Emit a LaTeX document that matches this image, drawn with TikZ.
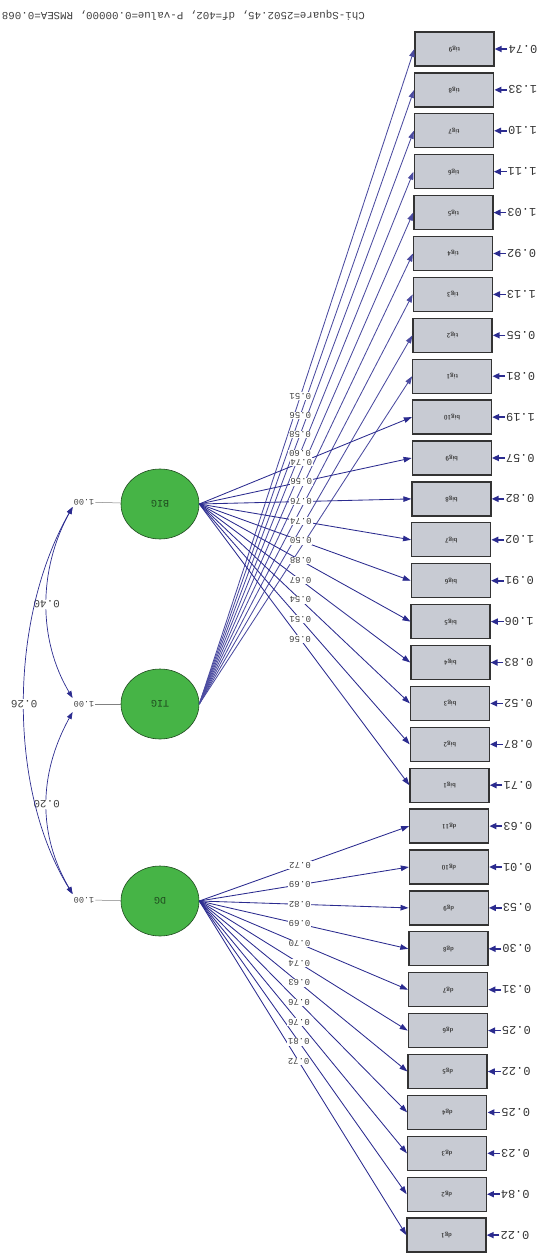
\documentclass[tikz,border=0pt]{standalone}
\usepackage{fontspec}
\setmainfont{Liberation Sans}
\newfontfamily\monof{Liberation Mono}
\usetikzlibrary{arrows.meta,shapes.geometric}
\definecolor{navy}{HTML}{2B2B8F}
\definecolor{boxfill}{HTML}{C8CBD3}
\definecolor{latfill}{HTML}{46B446}
\definecolor{latline}{HTML}{1F4A1F}
\newcommand{\flipt}[1]{\rotatebox[origin=c]{180}{#1}}
\begin{document}
\begin{tikzpicture}[x=1pt,y=-1pt,
  obs/.style={draw=black!80, line width=1.3pt, fill=boxfill, minimum width=79pt, minimum height=34pt, inner sep=0pt, font=\sffamily\bfseries\fontsize{6.5}{6.5}\selectfont, text=black!75},
  errl/.style={font=\monof\fontsize{12}{12}\selectfont, text=black!80, inner sep=1pt},
  errarr/.style={draw=navy, line width=1.6pt, -{Triangle[length=7pt,width=6pt]}},
  lat/.style={ellipse, draw=latline, line width=0.6pt, fill=latfill, minimum width=78pt, minimum height=70pt, inner sep=0pt, font=\monof\fontsize{10}{10}\selectfont, text=latline},
  load/.style={draw=navy, line width=0.85pt, -{Triangle[length=8pt,width=5.5pt]}},
  lbl/.style={fill=white, inner sep=0.8pt, font=\monof\fontsize{9}{9}\selectfont, text=black!75},
  varl/.style={inner sep=1pt, font=\monof\fontsize{8.5}{8.5}\selectfont, text=black!75},
  cov/.style={draw=navy, line width=0.7pt, {Triangle[length=7pt,width=5pt]}-{Triangle[length=7pt,width=5pt]}},
  covl/.style={fill=white, inner sep=1pt, font=\monof\fontsize{11}{11}\selectfont, text=black!75}
]
\useasboundingbox (0,0) rectangle (544,1257);

% title
\node[anchor=east, inner sep=0pt, font=\monof\fontsize{10.8}{10.8}\selectfont, text=black!75] (chi) at (365,15)
  {\flipt{Chi-Square=2502.45, df=402, P-value=0.00000, RMSEA=0.068}};

% observed variables with error variances
\foreach \i/\nm/\ev in {0/tig9/0.74,1/tig8/1.33,2/tig7/1.10,3/tig6/1.11,4/tig5/1.03,5/tig4/0.92,6/tig3/1.13,7/tig2/0.55,8/tig1/0.81,
  9/big10/1.19,10/big9/0.57,11/big8/0.82,12/big7/1.02,13/big6/0.91,14/big5/1.06,15/big4/0.83,16/big3/0.52,17/big2/0.87,18/big1/0.71,
  19/dg11/0.63,20/dg10/0.01,21/dg9/0.53,22/dg8/0.30,23/dg7/0.31,24/dg6/0.25,25/dg5/0.22,26/dg4/0.25,27/dg3/0.23,28/dg2/0.84,29/dg1/0.22}{
  \pgfmathsetmacro\yy{49+40.9*\i}
  \pgfmathsetmacro\xx{415-8*\i/29+39.5}
  \pgfmathsetmacro\ex{\xx+39.5+29}
  \node[obs] (b\i) at (\xx,\yy) {\flipt{\nm}};
  \node[errl] (e\i) at (\ex,\yy) {\flipt{\ev}};
  \draw[errarr] (e\i) -- (b\i);
}

% latent variables
\node[lat] (BIG) at (160,504) {\flipt{BIG}};
\node[lat] (TIG) at (160,704) {\flipt{TIG}};
\node[lat] (DG)  at (160,901) {\flipt{DG}};

% variances
\node[varl] (vBIG) at (84,502) {\flipt{1.00}};
\node[varl] (vTIG) at (84,704) {\flipt{1.00}};
\node[varl] (vDG)  at (84,900) {\flipt{1.00}};
\draw[gray, line width=0.5pt] (BIG) -- (vBIG);
\draw[gray, line width=0.5pt] (TIG) -- (vTIG);
\draw[gray, line width=0.5pt] (DG) -- (vDG);

% covariances
\draw[cov] ([yshift=-5pt]vBIG.west) .. controls (38,570) and (38,640) .. ([yshift=6pt]vTIG.west)
  node[pos=0.5, covl] {\flipt{0.40}};
\draw[cov] ([yshift=-8pt]vTIG.west) .. controls (38,775) and (38,835) .. ([yshift=6pt]vDG.west)
  node[pos=0.5, covl] {\flipt{0.20}};
\draw[cov] ([yshift=-5pt]vBIG.west) .. controls (8,620) and (8,790) .. ([yshift=6pt]vDG.west)
  node[pos=0.5, covl] {\flipt{0.26}};

% loadings: lines
\foreach \i in {0,...,8}{ \draw[load, draw=navy!85] (TIG.east) -- (b\i.west); }
\foreach \i in {9,...,18}{ \draw[load] (BIG.east) -- (b\i.west); }
\foreach \i in {19,...,29}{ \draw[load] (DG.east) -- (b\i.west); }

% loadings: labels
\foreach \i/\v in {0/0.51,1/0.56,2/0.58,3/0.60}{
  \path (TIG.east) -- (b\i.west) node[pos=0.47, lbl] {\flipt{\v}};
}
\foreach \i/\v in {9/0.74,10/0.56,11/0.76,12/0.74,13/0.50,14/0.88,15/0.67,16/0.54,17/0.51,18/0.56}{
  \path (BIG.east) -- (b\i.west) node[pos=0.48, lbl] {\flipt{\v}};
}
\foreach \i/\v in {19/0.72,20/0.69,21/0.82,22/0.69,23/0.70,24/0.74,25/0.63,26/0.76,27/0.76,28/0.81,29/0.72}{
  \path (DG.east) -- (b\i.west) node[pos=0.48, lbl] {\flipt{\v}};
}
\end{tikzpicture}
\end{document}
